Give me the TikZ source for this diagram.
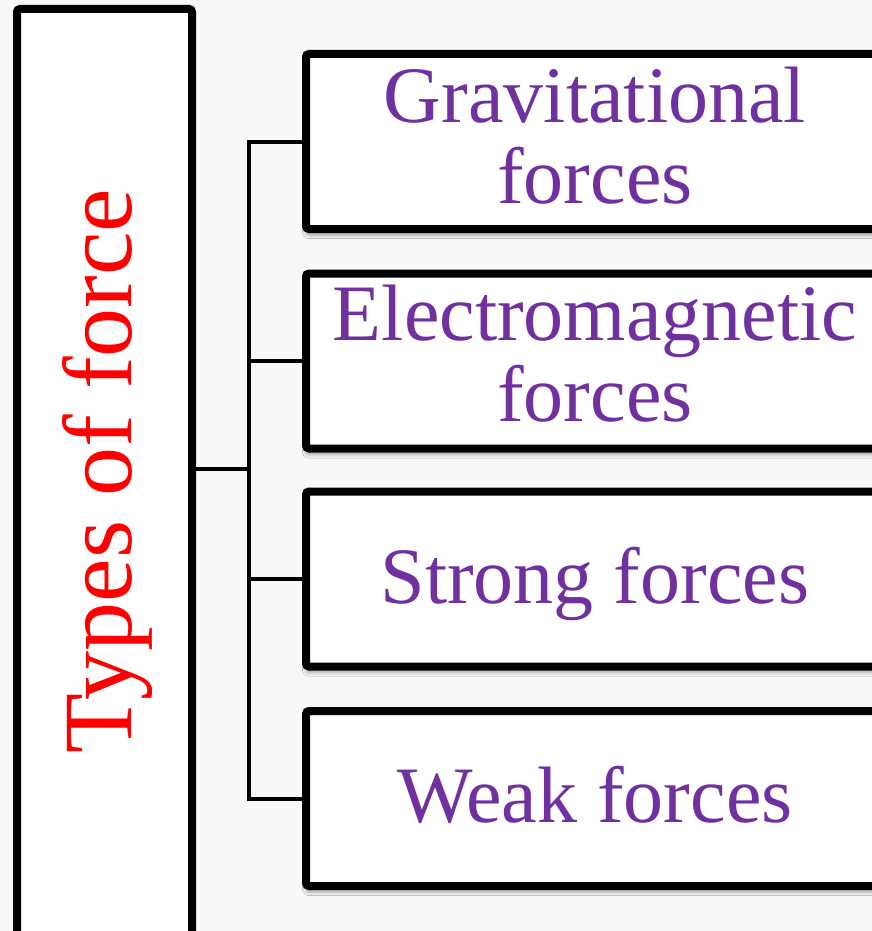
\documentclass[tikz,border=0pt]{standalone}
\usepackage{fontspec}
\setmainfont{Liberation Serif}
\usetikzlibrary{shadows.blur}
\definecolor{forcepurple}{HTML}{7030A0}
\definecolor{bgpaper}{HTML}{F8F8F8}
\tikzset{
  bigbox/.style={draw=black, line width=4pt, fill=white, rounded corners=1.5pt,
    blur shadow={shadow xshift=0pt, shadow yshift=-3pt, shadow blur steps=6, shadow opacity=35},
    inner sep=0pt, outer sep=0pt},
  forcebox/.style={bigbox, minimum width=289pt, minimum height=87.5pt},
  forcetext/.style={text=forcepurple, align=center, inner sep=0pt,
    font=\fontsize{40}{40.5}\selectfont},
  conn/.style={draw=black, line width=2pt}
}
\begin{document}
\begin{tikzpicture}[x=0.5pt, y=-0.5pt]
\useasboundingbox (0,0) rectangle (872,931);
\fill[bgpaper] (0,0) rectangle (872,931);
\begin{scope}
\clip (0,0) rectangle (872,931);
% left box
\node[bigbox, minimum width=87.5pt, minimum height=480pt, anchor=north] (types) at (104.5,9) {};
\node[text=red, rotate=90, anchor=base, inner sep=0pt,
      font=\fontsize{49}{49}\selectfont] (typestext) at (131,471) {Types of force};
% right boxes
\node[forcebox] (b1) at (595,141.5) {};
\node[forcebox] (b2) at (595,361) {};
\node[forcebox] (b3) at (595,579) {};
\node[forcebox] (b4) at (595,798.5) {};
\node[forcetext, anchor=base] (t1) at (595,203) {Gravitational\\forces};
\node[forcetext, anchor=base] (t2) at (595,421) {Electromagnetic\\forces};
\node[forcetext, anchor=base] (t3) at (595,603) {Strong forces};
\node[forcetext, anchor=base] (t4) at (595,822) {Weak forces};
% connectors
\coordinate (hub) at (249,469);
\draw[conn] (types.east |- hub) -- (hub);
\draw[conn] (b1.west) -- (b1.west -| hub) -- (b4.west -| hub) -- (b4.west);
\draw[conn] (b2.west) -- (b2.west -| hub);
\draw[conn] (b3.west) -- (b3.west -| hub);
\end{scope}
\end{tikzpicture}
\end{document}
